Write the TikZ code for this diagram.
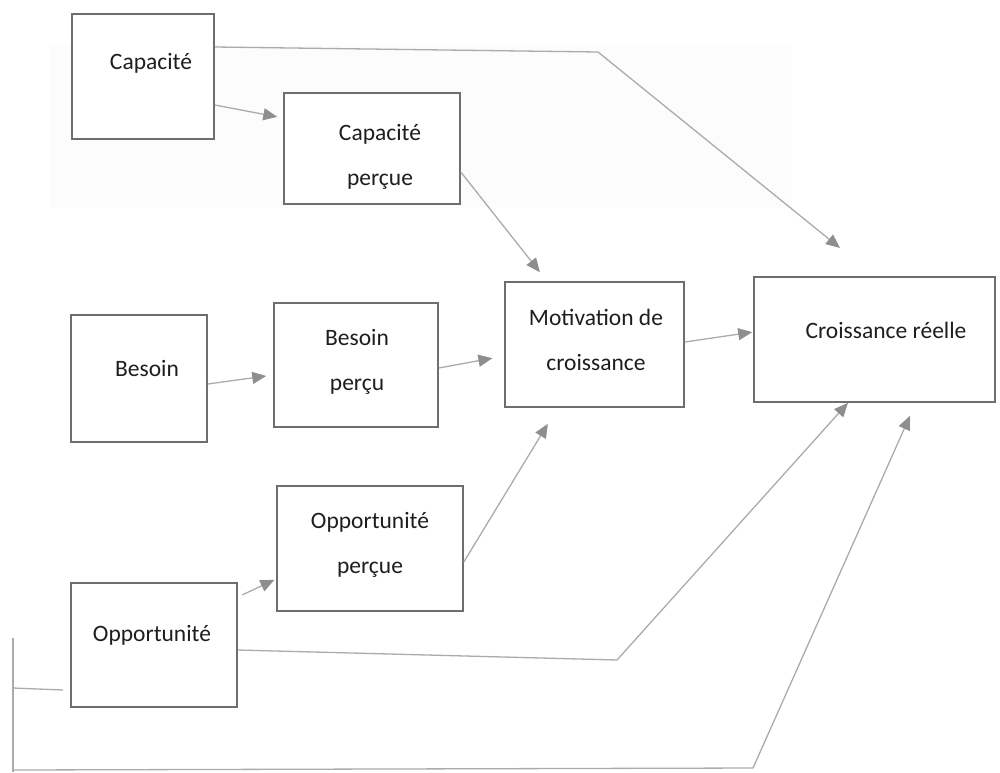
\documentclass[tikz,border=0pt]{standalone}
\usepackage{fontspec}
\setmainfont{Carlito}
\usetikzlibrary{arrows.meta,calc}
\definecolor{boxc}{HTML}{6E6E6E}
\definecolor{linec}{HTML}{ABABAB}
\definecolor{tipc}{HTML}{8E8E8E}
\definecolor{txtc}{HTML}{1E1E1E}
\definecolor{bgc}{HTML}{FCFCFC}
\begin{document}
\begin{tikzpicture}[x=1pt,y=-1pt,
  box/.style={draw=boxc,line width=1.6pt,fill=white,inner sep=0pt},
  lbl/.style={text=txtc,font=\fontsize{23.5}{45}\selectfont,align=center,inner sep=0pt},
  conn/.style={draw=linec,line width=1.3pt,-{Triangle[length=14pt,width=12pt,color=tipc]}},
  plain/.style={draw=linec,line width=1.3pt}]
\useasboundingbox (0,0) rectangle (1000,772);
\fill[bgc] (50,45) rectangle (792,208);
% boxes
\node[box,minimum width=142pt,minimum height=125pt] (cap)  at (143,76.5) {};
\node[box,minimum width=176pt,minimum height=111pt] (capp) at (372,148.5) {};
\node[box,minimum width=136pt,minimum height=127pt] (bes)  at (139,378.5) {};
\node[box,minimum width=164pt,minimum height=124pt] (besp) at (356,365) {};
\node[box,minimum width=179pt,minimum height=125pt] (mot)  at (594.5,344.5) {};
\node[box,minimum width=241pt,minimum height=125pt] (cr)   at (874.5,339.5) {};
\node[box,minimum width=186pt,minimum height=125pt] (oppp) at (370,548.5) {};
\node[box,minimum width=166pt,minimum height=124pt] (opp)  at (154,645) {};
% texts
\node[lbl] (capT)  at (151,63)  {Capacité};
\node[lbl] (cappT) at (380,157) {Capacité\\perçue};
\node[lbl] (besT)  at (147,368) {Besoin};
\node[lbl] (bespT) at (357,362) {Besoin\\perçu};
\node[lbl] (motT)  at (596,340) {Motivation de\\croissance};
\node[lbl] (crT)   at (886,330) {Croissance réelle};
\node[lbl] (opppT) at (370,545) {Opportunité\\perçue};
\node[lbl] (oppT)  at (152,635) {Opportunité};
% free coordinates
\coordinate (k1) at (598,52);
\coordinate (capEnd) at (840,248);
\coordinate (k2) at (617,660);
\coordinate (l1) at (63,690);
\coordinate (l2) at (13,688);
\coordinate (v1) at (13,638);
\coordinate (v2) at (13,772);
\coordinate (b1) at (13,770);
\coordinate (b2) at (753,768);
% connectors
\draw[conn,shorten >=6pt] (cap.east |- 0,105) -- (capp.west |- 0,118);
\draw[conn] (cap.east |- 0,47) -- (k1) -- (capEnd);
\draw[conn,shorten >=11.5pt] (capp.east |- 0,172) -- (mot.north -| 547,0);
\draw[conn,shorten >=7pt] (bes.east |- 0,384) -- (besp.west |- 0,375);
\draw[conn,shorten >=12pt] (besp.east |- 0,368) -- (mot.west |- 0,356);
\draw[conn,shorten >=1pt] (mot.east |- 0,342) -- (cr.west |- 0,332);
\draw[conn,shorten >=18.7pt] (oppp.east |- 0,562) -- (mot.south -| 557.6,0);
\draw[conn,shorten <=5pt,shorten >=2pt] (opp.east |- 0,597) -- (oppp.west |- 0,579);
\draw[conn] (opp.east |- 0,650) -- (k2) -- (cr.south -| 848,0);
\draw[plain] (l1) -- (l2);
\draw[plain] (v1) -- (v2);
\draw[conn,shorten >=14.2pt] (b1) -- (b2) -- (cr.south -| 915.8,0);
\end{tikzpicture}
\end{document}
